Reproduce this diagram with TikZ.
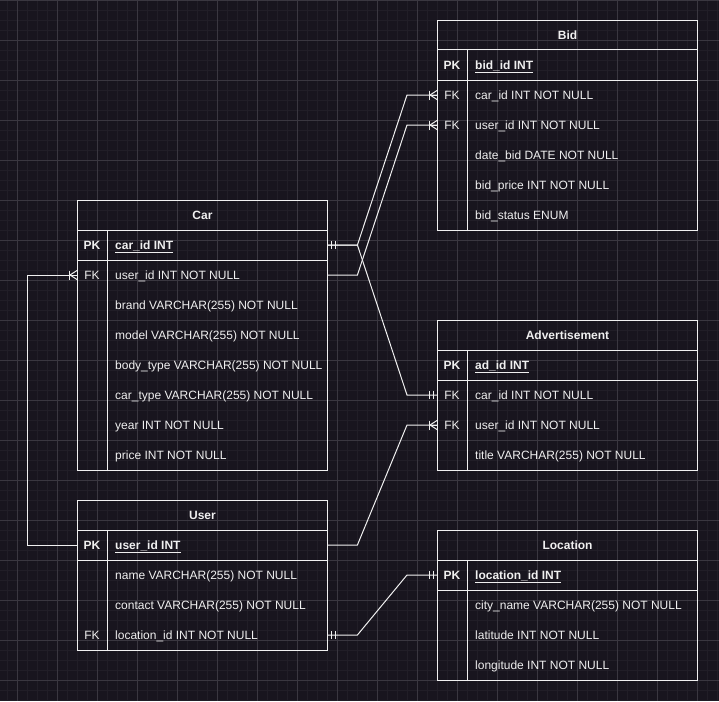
\documentclass[tikz,border=0pt]{standalone}
\usepackage{fontspec}
\setmainfont{Liberation Sans}
\usetikzlibrary{calc}
\definecolor{bgc}{RGB}{24,21,30}
\definecolor{gridmin}{RGB}{33,30,39}
\definecolor{gridmaj}{RGB}{58,55,64}
\definecolor{ink}{RGB}{240,240,240}
\tikzset{
  erline/.style={draw=ink, line width=1pt},
  tablebox/.style={draw=ink, line width=1pt, rectangle, inner sep=0pt, fill=none},
  rowbox/.style={rectangle, inner sep=0pt, minimum height=30pt, draw=none},
  txt/.style={text=ink, inner sep=0pt, font=\fontsize{12}{14}\selectfont},
  keytxt/.style={txt, anchor=base},
  valtxt/.style={txt, anchor=base west},
  titletxt/.style={txt, anchor=base, font=\fontsize{12}{14}\selectfont\bfseries},
  gridminor/.style={draw=gridmin, line width=0.6pt},
  gridmajor/.style={draw=gridmaj, line width=0.7pt},
  pics/manyend/.style={code={
    \draw[erline] (-8,-4.5) -- (-8,4.5);
    \draw[erline] (0,-4.5) -- (-7,0) -- (0,4.5);
    \draw[erline] (-7,0) -- (0,0);}},
  pics/onel/.style={code={
    \draw[erline] (-4,-4) -- (-4,4) (-8,-4) -- (-8,4);}},
  pics/oner/.style={code={
    \draw[erline] (4,-4) -- (4,4) (8,-4) -- (8,4);}},
}
\newcommand{\ertable}[6]{% name, x, y, w, rows, title
  \node[tablebox, anchor=north west, minimum width=#4pt, minimum height={(#5+1)*30pt}] (#1) at (#2,#3) {};
  \node[titletxt] (#1-t) at ($(#1.north)+(0,19.5)$) {#6};
  \draw[erline] ($(#1.north west)+(0,30)$) -- ($(#1.north east)+(0,30)$);
  \draw[erline] ($(#1.north west)+(0,60)$) -- ($(#1.north east)+(0,60)$);
  \draw[erline] ($(#1.north west)+(30,30)$) -- ($(#1.south west)+(30,0)$);
}
\newcommand{\errow}[5]{% table, index, row name, key, value
  \node[rowbox, anchor=west, minimum width=\tw pt] (#3) at ($(#1.north west)+(0,15+30*#2)$) {};
  \node[keytxt] (#3-k) at ($(#3.west)+(15,4.5)$) {#4};
  \node[valtxt] (#3-v) at ($(#3.west)+(38,4.5)$) {#5};
}
\newcommand{\pkv}[1]{\bfseries\underline{#1}}
\begin{document}
\begin{tikzpicture}[x=1pt, y=-1pt]
  \useasboundingbox (0,0) rectangle (719,701);
  \fill[bgc] (0,0) rectangle (719,701);
  % grid
  \foreach \gx in {7,17,...,717} \draw[gridminor] (\gx,0) -- (\gx,701);
  \foreach \gy in {10,20,...,700} \draw[gridminor] (0,\gy) -- (719,\gy);
  \foreach \gx in {17,57,...,697} \draw[gridmajor] (\gx,0) -- (\gx,701);
  \foreach \gy in {0,40,...,680} \draw[gridmajor] (0,\gy) -- (719,\gy);

  % Bid
  \def\tw{260}
  \ertable{bid}{437}{20}{260}{6}{Bid}
  \errow{bid}{1}{bidR1}{\bfseries PK}{\pkv{bid\_id INT}}
  \errow{bid}{2}{bidR2}{FK}{car\_id INT NOT NULL}
  \errow{bid}{3}{bidR3}{FK}{user\_id INT NOT NULL}
  \errow{bid}{4}{bidR4}{}{date\_bid DATE NOT NULL}
  \errow{bid}{5}{bidR5}{}{bid\_price INT NOT NULL}
  \errow{bid}{6}{bidR6}{}{bid\_status ENUM}

  % Advertisement
  \ertable{adv}{437}{320}{260}{4}{Advertisement}
  \errow{adv}{1}{advR1}{\bfseries PK}{\pkv{ad\_id INT}}
  \errow{adv}{2}{advR2}{FK}{car\_id INT NOT NULL}
  \errow{adv}{3}{advR3}{FK}{user\_id INT NOT NULL}
  \errow{adv}{4}{advR4}{}{title VARCHAR(255) NOT NULL}

  % Location
  \ertable{loc}{437}{530}{260}{4}{Location}
  \errow{loc}{1}{locR1}{\bfseries PK}{\pkv{location\_id INT}}
  \errow{loc}{2}{locR2}{}{city\_name VARCHAR(255) NOT NULL}
  \errow{loc}{3}{locR3}{}{latitude INT NOT NULL}
  \errow{loc}{4}{locR4}{}{longitude INT NOT NULL}

  % Car
  \def\tw{250}
  \ertable{car}{77}{200}{250}{8}{Car}
  \errow{car}{1}{carR1}{\bfseries PK}{\pkv{car\_id INT}}
  \errow{car}{2}{carR2}{FK}{user\_id INT NOT NULL}
  \errow{car}{3}{carR3}{}{brand VARCHAR(255) NOT NULL}
  \errow{car}{4}{carR4}{}{model VARCHAR(255) NOT NULL}
  \errow{car}{5}{carR5}{}{body\_type VARCHAR(255) NOT NULL}
  \errow{car}{6}{carR6}{}{car\_type VARCHAR(255) NOT NULL}
  \errow{car}{7}{carR7}{}{year INT NOT NULL}
  \errow{car}{8}{carR8}{}{price INT NOT NULL}

  % User
  \ertable{user}{77}{500}{250}{4}{User}
  \errow{user}{1}{userR1}{\bfseries PK}{\pkv{user\_id INT}}
  \errow{user}{2}{userR2}{}{name VARCHAR(255) NOT NULL}
  \errow{user}{3}{userR3}{}{contact VARCHAR(255) NOT NULL}
  \errow{user}{4}{userR4}{FK}{location\_id INT NOT NULL}

  % connectors
  \draw[erline] (carR1.east) -- ++(30,0) -- ($(bidR2.west)+(-30,0)$) -- (bidR2.west);
  \draw[erline] (carR2.east) -- ++(30,0) -- ($(bidR3.west)+(-30,0)$) -- (bidR3.west);
  \draw[erline] (carR1.east) -- ++(30,0) -- ($(advR2.west)+(-30,0)$) -- (advR2.west);
  \draw[erline] (userR1.east) -- ++(30,0) -- ($(advR3.west)+(-30,0)$) -- (advR3.west);
  \draw[erline] (userR4.east) -- ++(30,0) -- ($(locR1.west)+(-30,0)$) -- (locR1.west);
  \draw[erline] (userR1.west) -- ++(-50,0) -- ($(carR2.west)+(-50,0)$) -- (carR2.west);

  % end marks
  \pic at (bidR2.west) {manyend};
  \pic at (bidR3.west) {manyend};
  \pic at (advR3.west) {manyend};
  \pic at (carR2.west) {manyend};
  \pic at (advR2.west) {onel};
  \pic at (locR1.west) {onel};
  \pic at (carR1.east) {oner};
  \pic at (userR4.east) {oner};
\end{tikzpicture}
\end{document}
